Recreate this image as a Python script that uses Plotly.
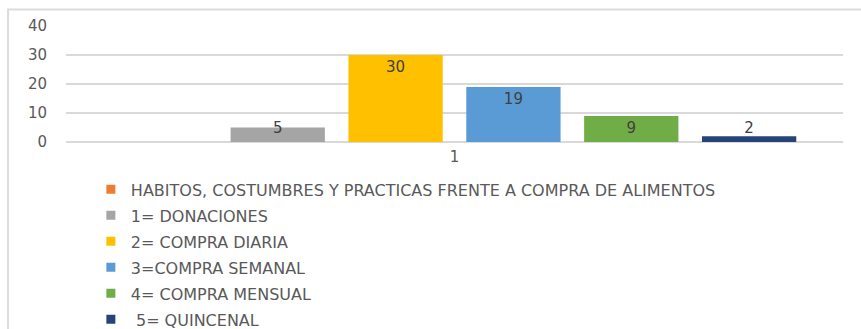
import plotly.graph_objects as go

# Survey answers: food purchasing habits, one category on the x axis
categories = ["1"]
series_names = [
    "HABITOS, COSTUMBRES Y PRACTICAS FRENTE A COMPRA DE ALIMENTOS",
    "1= DONACIONES",
    "2= COMPRA DIARIA",
    "3=COMPRA SEMANAL",
    "4= COMPRA MENSUAL",
    " 5= QUINCENAL",
]
series_values = [0, 5, 30, 19, 9, 2]
series_colors = ["#ED7D31", "#A5A5A5", "#FFC000", "#5B9BD5", "#70AD47", "#264478"]
y_ticks = [0, 10, 20, 30, 40]

TEXT_GRAY = "#595959"
LABEL_GRAY = "#404040"
GRID = "#D9D9D9"
FONT = "DejaVu Sans"
# short bars keep their value label at the same height as a bar of this size
LABEL_FLOOR = 9

fig = go.Figure()

for i, (name, val, col) in enumerate(zip(series_names, series_values, series_colors)):
    grp = f"s{i}"
    fig.add_trace(go.Bar(
        x=categories, y=[val], name=name, offsetgroup=grp,
        marker=dict(color=col, line=dict(width=0)),
        showlegend=False, hoverinfo="skip",
    ))
    if val:
        # transparent carrier bar holding the value label at the inside end
        fig.add_trace(go.Bar(
            x=categories, y=[max(val, LABEL_FLOOR)], offsetgroup=grp,
            marker=dict(color="rgba(0,0,0,0)", line=dict(width=0)),
            text=[str(val)], textposition="inside", insidetextanchor="end",
            textfont=dict(family=FONT, size=15, color=LABEL_GRAY),
            constraintext="none", showlegend=False, hoverinfo="skip",
        ))
    # legend entry with a small square swatch
    fig.add_trace(go.Scatter(
        x=[None], y=[None], mode="markers", name=name, legendgroup=grp,
        marker=dict(symbol="square", size=9, color=col),
    ))

fig.update_layout(
    width=861, height=329,
    margin=dict(l=66, r=18, t=26, b=187, pad=0, autoexpand=False),
    paper_bgcolor="white", plot_bgcolor="white",
    barmode="group", bargap=0.09, bargroupgap=0.2,
    font=dict(family=FONT, color=TEXT_GRAY, size=15),
    showlegend=True,
    legend=dict(
        x=0.032, xanchor="left", y=-0.262, yanchor="top",
        orientation="v", tracegroupgap=2.2, itemwidth=30,
        font=dict(family=FONT, size=16, color=TEXT_GRAY),
        bgcolor="rgba(0,0,0,0)",
    ),
    xaxis=dict(
        type="category", range=[-0.5, 0.5], showgrid=False,
        showline=False, zeroline=False, ticks="",
        tickfont=dict(family=FONT, size=15, color=TEXT_GRAY),
        ticklabelstandoff=4, fixedrange=True,
    ),
    yaxis=dict(
        range=[0, 40], tickvals=y_ticks, showgrid=True, gridcolor=GRID,
        gridwidth=1.5, zeroline=True, zerolinecolor=GRID, zerolinewidth=1.5,
        showline=False, ticks="", ticklabelstandoff=18,
        tickfont=dict(family=FONT, size=15, color=TEXT_GRAY),
        fixedrange=True,
    ),
    shapes=[
        # chart frame (left and top edges visible)
        dict(type="rect", xref="paper", yref="paper",
             x0=-0.0746, x1=1.2, y0=-2.0, y1=1.142,
             line=dict(color="#DCDCDC", width=2), fillcolor="rgba(0,0,0,0)",
             layer="below"),
    ],
)

fig.write_html("out.html")
